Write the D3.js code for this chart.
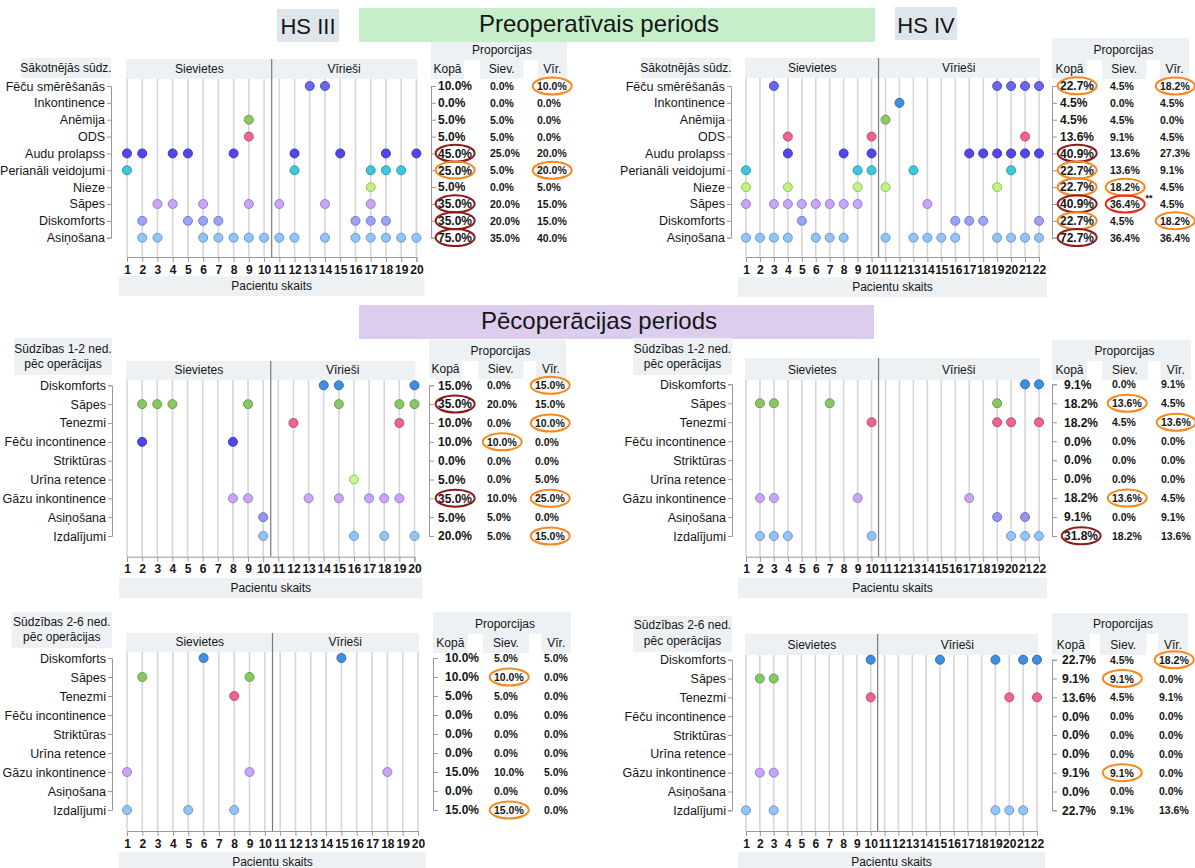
<!DOCTYPE html>
<html>
<head>
<meta charset="utf-8">
<script src="https://cdn.jsdelivr.net/npm/d3@7"></script>
<style>
  body { margin: 0; background: #fff; }
  svg text { font-family: "Liberation Sans", Arial, sans-serif; fill: #151515; }
</style>
</head>
<body>
<svg id="chart" width="1195" height="868"></svg>
<script>
// ---- dati ----
const preCats = ["Fēču smērēšanās", "Inkontinence", "Anēmija", "ODS", "Audu prolapss",
  "Perianāli veidojumi", "Nieze", "Sāpes", "Diskomforts", "Asiņošana"];
const postCats = ["Diskomforts", "Sāpes", "Tenezmi", "Fēču incontinence", "Striktūras",
  "Urīna retence", "Gāzu inkontinence", "Asiņošana", "Izdalījumi"];

const preColors = ["#6a66ee", "#3e8ee2", "#8cc864", "#f0648c", "#5046ee",
  "#3cc8dc", "#c2f282", "#c8a4fa", "#9ca2fa", "#90c4fa"];
const postColors = ["#3e8ee2", "#88c864", "#f0648c", "#5046ee", "#999999",
  "#c8f88a", "#c8a4fa", "#9494f4", "#90c4fa"];

const hs3Ticks = [1, 2, 3, 4, 5, 6, 7, 8, 9, 10, 11, 12, 13, 14, 15, 16, 17, 18, 19, 20];
const hs4Ticks = [1, 2, 3, 4, 5, 6, 7, 8, 9, 10, 11, 12, 13, 14, 15, 16, 17, 18, 19, 20, 21, 22];
const hs3Women = 10;
const hs4Women = 10;

// pacientu numuri katrai sūdzībai
const hs3PreDots = [[13, 14], [], [9], [9], [1, 2, 4, 5, 8, 12, 15, 18, 20], [1, 12, 17, 18, 19], [17],
  [3, 4, 6, 9, 11, 14, 17], [2, 5, 6, 7, 16, 17, 18], [2, 3, 6, 7, 8, 9, 10, 11, 12, 14, 16, 17, 18, 19, 20]];
const hs4PreDots = [[3, 19, 20, 21, 22], [12], [11], [4, 10, 21], [4, 8, 10, 17, 18, 19, 20, 21, 22],
  [1, 9, 10, 13, 20], [1, 4, 9, 11, 19], [1, 3, 4, 5, 6, 7, 8, 9, 14], [5, 16, 17, 18, 22],
  [1, 2, 3, 4, 6, 7, 8, 11, 13, 14, 15, 16, 19, 20, 21, 22]];
const hs3Post12Dots = [[14, 15, 20], [2, 3, 4, 9, 15, 19, 20], [12, 19], [2, 8], [], [16],
  [8, 9, 13, 15, 17, 18, 19], [10], [10, 16, 18, 20]];
const hs4Post12Dots = [[21, 22], [2, 3, 7, 19], [10, 19, 20, 22], [], [], [], [2, 3, 9, 17], [19, 21],
  [2, 3, 4, 10, 20, 21, 22]];
const hs3Post26Dots = [[6, 15], [2, 9], [8], [], [], [], [1, 9, 18], [], [1, 5, 8]];
const hs4Post26Dots = [[10, 15, 19, 21, 22], [2, 3], [10, 20, 22], [], [], [], [2, 3], [], [1, 3, 19, 20, 21]];

// proporcijas
const hs3PreKopa = ["10.0%", "0.0%", "5.0%", "5.0%", "45.0%", "25.0%", "5.0%", "35.0%", "35.0%", "75.0%"];
const hs3PreSiev = ["0.0%", "0.0%", "5.0%", "5.0%", "25.0%", "5.0%", "0.0%", "20.0%", "20.0%", "35.0%"];
const hs3PreVir = ["10.0%", "0.0%", "0.0%", "0.0%", "20.0%", "20.0%", "5.0%", "15.0%", "15.0%", "40.0%"];
const hs4PreKopa = ["22.7%", "4.5%", "4.5%", "13.6%", "40.9%", "22.7%", "22.7%", "40.9%", "22.7%", "72.7%"];
const hs4PreSiev = ["4.5%", "0.0%", "4.5%", "9.1%", "13.6%", "13.6%", "18.2%", "36.4%", "4.5%", "36.4%"];
const hs4PreVir = ["18.2%", "4.5%", "0.0%", "4.5%", "27.3%", "9.1%", "4.5%", "4.5%", "18.2%", "36.4%"];
const hs3Post12Kopa = ["15.0%", "35.0%", "10.0%", "10.0%", "0.0%", "5.0%", "35.0%", "5.0%", "20.0%"];
const hs3Post12Siev = ["0.0%", "20.0%", "0.0%", "10.0%", "0.0%", "0.0%", "10.0%", "5.0%", "5.0%"];
const hs3Post12Vir = ["15.0%", "15.0%", "10.0%", "0.0%", "0.0%", "5.0%", "25.0%", "0.0%", "15.0%"];
const hs4Post12Kopa = ["9.1%", "18.2%", "18.2%", "0.0%", "0.0%", "0.0%", "18.2%", "9.1%", "31.8%"];
const hs4Post12Siev = ["0.0%", "13.6%", "4.5%", "0.0%", "0.0%", "0.0%", "13.6%", "0.0%", "18.2%"];
const hs4Post12Vir = ["9.1%", "4.5%", "13.6%", "0.0%", "0.0%", "0.0%", "4.5%", "9.1%", "13.6%"];
const hs3Post26Kopa = ["10.0%", "10.0%", "5.0%", "0.0%", "0.0%", "0.0%", "15.0%", "0.0%", "15.0%"];
const hs3Post26Siev = ["5.0%", "10.0%", "5.0%", "0.0%", "0.0%", "0.0%", "10.0%", "0.0%", "15.0%"];
const hs3Post26Vir = ["5.0%", "0.0%", "0.0%", "0.0%", "0.0%", "0.0%", "5.0%", "0.0%", "0.0%"];
const hs4Post26Kopa = ["22.7%", "9.1%", "13.6%", "0.0%", "0.0%", "0.0%", "9.1%", "0.0%", "22.7%"];
const hs4Post26Siev = ["4.5%", "9.1%", "4.5%", "0.0%", "0.0%", "0.0%", "9.1%", "0.0%", "9.1%"];
const hs4Post26Vir = ["18.2%", "0.0%", "9.1%", "0.0%", "0.0%", "0.0%", "0.0%", "0.0%", "13.6%"];

// apļi ap vērtībām: o = oranžs, d = tumši sarkans, r = sarkans
const hs3PreMarks = { kopa: ["", "", "", "", "d", "o", "", "d", "d", "d"], siev: [], vir: ["o", "", "", "", "", "o"] };
const hs4PreMarks = { kopa: ["o", "", "", "", "d", "o", "o", "d", "o", "d"], siev: ["", "", "", "", "", "", "o", "r"], vir: ["o", "", "", "", "", "", "", "", "o"] };
const hs3Post12Marks = { kopa: ["", "d", "", "", "", "", "d"], siev: ["", "", "", "o"], vir: ["o", "", "o", "", "", "", "o", "", "o"] };
const hs4Post12Marks = { kopa: ["", "", "", "", "", "", "", "", "d"], siev: ["", "o", "", "", "", "", "o"], vir: ["", "", "o"] };
const hs3Post26Marks = { kopa: [], siev: ["", "o", "", "", "", "", "", "", "o"], vir: [] };
const hs4Post26Marks = { kopa: [], siev: ["", "o", "", "", "", "", "o"], vir: ["o"] };

const markColor = { o: "#f5891f", d: "#8e1b1b", r: "#ea2a1c" };

// ---- zīmēšana ----
const svg = d3.select("#chart");
const headFill = "#edf1f4";

function box(x0, y0, x1, y1, fill) {
  svg.append("rect")
    .attr("x", x0).attr("y", y0)
    .attr("width", x1 - x0).attr("height", y1 - y0)
    .attr("fill", fill);
}

function txt(x, y, s, size, anchor, weight) {
  return svg.append("text")
    .attr("x", x).attr("y", y)
    .attr("text-anchor", anchor || "middle")
    .attr("font-size", size + "px")
    .attr("font-weight", weight || "normal")
    .text(s);
}

// virsraksti
box(277, 9, 339, 42, "#dfe6eb");
txt(308, 34, "HS III", 22);
box(895, 7, 957, 40, "#dfe6eb");
txt(926, 33, "HS IV", 22);
box(359, 8, 875, 42, "#c6efc9");
txt(599, 32, "Preoperatīvais periods", 24);
box(359, 305, 874, 339, "#dccdee");
txt(599, 329, "Pēcoperācijas periods", 24);

function drawPanel(p) {
  const last = p.ticks[p.ticks.length - 1];
  const x = d3.scaleLinear().domain([p.ticks[0], last]).range([p.x0, p.x1]);
  const y = d3.scalePoint().domain(p.cats).range([p.y0, p.y1]);
  const split = (x(p.women) + x(p.women + 1)) / 2;

  // galvenes
  box(p.lab[0], p.lab[1], p.lab[2], p.lab[3], headFill);
  const lx = (p.lab[0] + p.lab[2]) / 2;
  p.labText.forEach((s, i) => txt(lx, p.labBase[i], s, 12));
  box(x(p.ticks[0]) - 1, p.headTop, split, p.headBot, headFill);
  box(split, p.headTop, x(last) + 1, p.headBot, headFill);
  txt((x(p.ticks[0]) + split) / 2, p.headBot - 6, "Sievietes", 12);
  txt((split + x(last)) / 2, p.headBot - 6, "Vīrieši", 12);

  // pacientu skaits
  box(x(p.ticks[0]) - 8, p.pacTop, x(last) + 8, p.pacTop + 20, headFill);
  txt((x(p.ticks[0]) + x(last)) / 2, p.pacTop + 14, "Pacientu skaits", 12);

  // režģa līnijas
  svg.append("g").selectAll("line")
    .data(p.ticks)
    .join("line")
    .attr("x1", d => x(d)).attr("x2", d => x(d))
    .attr("y1", p.headBot).attr("y2", p.axisY)
    .attr("stroke", "#d6d6d6")
    .attr("stroke-width", 1.6);

  svg.append("line")
    .attr("x1", split).attr("x2", split)
    .attr("y1", p.headTop).attr("y2", p.axisY)
    .attr("stroke", "#7a7a7a")
    .attr("stroke-width", 1.2);

  // x ass
  const xa = svg.append("g")
    .attr("transform", `translate(0,${p.axisY})`)
    .call(d3.axisBottom(x).tickValues(p.ticks).tickFormat(d3.format("d")).tickSize(5).tickPadding(3));
  xa.selectAll("path,line").attr("stroke", "#999");
  xa.selectAll("text").attr("font-size", "12px").attr("font-weight", "bold")
    .attr("font-family", "'Liberation Sans', Arial, sans-serif").attr("fill", "#111");

  // y ass ar sūdzībām
  const ya = svg.append("g")
    .attr("transform", `translate(${p.axisX},0)`)
    .call(d3.axisLeft(y).tickSize(4).tickPadding(2));
  ya.selectAll("path,line").attr("stroke", "#999");
  ya.selectAll("text").attr("font-size", "12.5px")
    .attr("font-family", "'Liberation Sans', Arial, sans-serif").attr("fill", "#222");

  // punkti
  const pts = [];
  p.dots.forEach((list, i) => list.forEach(n => pts.push({ cat: p.cats[i], n, c: p.colors[i] })));
  svg.append("g").selectAll("circle")
    .data(pts)
    .join("circle")
    .attr("cx", d => x(d.n))
    .attr("cy", d => y(d.cat))
    .attr("r", 4.5)
    .attr("fill", d => d.c)
    .attr("stroke", d => d3.color(d.c).darker(0.7))
    .attr("stroke-width", 1);

  // proporciju tabula
  const [b0, b1] = p.prop;
  box(b0, p.propTop, b1, p.propBot, headFill);
  svg.append("rect").attr("x", p.gaps[0]).attr("y", p.gapTop).attr("width", p.gaps[1] - p.gaps[0])
    .attr("height", p.propBot - p.gapTop + 1).attr("fill", "#fff");
  svg.append("rect").attr("x", p.gaps[2]).attr("y", p.gapTop).attr("width", p.gaps[3] - p.gaps[2])
    .attr("height", p.propBot - p.gapTop + 1).attr("fill", "#fff");
  txt((b0 + b1) / 2 + 3, p.gapTop - 6, "Proporcijas", 12);
  txt((b0 + p.gaps[0]) / 2, p.propBot - 6, "Kopā", 12);
  txt((p.gaps[1] + p.gaps[2]) / 2, p.propBot - 6, "Siev.", 12);
  txt((p.gaps[3] + b1) / 2, p.propBot - 6, "Vīr.", 12);

  const ka = svg.append("g")
    .attr("transform", `translate(${b0},0)`)
    .call(d3.axisRight(y).tickSize(5).tickPadding(p.kopaX - b0 - 5)
      .tickFormat((d, i) => p.kopa[i]));
  ka.selectAll("path,line").attr("stroke", "#999");
  ka.selectAll("text").attr("font-size", "12px").attr("font-weight", "bold")
    .attr("font-family", "'Liberation Sans', Arial, sans-serif").attr("fill", "#111");

  const cols = [
    { key: "siev", vals: p.siev, x0: p.sievX },
    { key: "vir", vals: p.vir, x0: p.virX }
  ];
  const colText = {};
  cols.forEach(col => {
    colText[col.key] = svg.append("g").selectAll("text")
      .data(col.vals)
      .join("text")
      .attr("x", col.x0)
      .attr("y", (d, i) => y(p.cats[i]) + 4)
      .attr("font-size", "10.5px")
      .attr("font-weight", "bold")
      .text(d => d);
  });

  // apļi
  const marks = [];
  ka.selectAll(".tick text").each(function (d, i) {
    const m = p.marks.kopa[i];
    if (m) marks.push({ bb: this.getBBox(), off: y(d), m, kopa: true });
  });
  ["siev", "vir"].forEach(key => {
    colText[key].each(function (d, i) {
      const m = p.marks[key][i];
      const bb = this.getBBox();
      if (m) marks.push({ bb, off: 0, m });
      if (p.note && p.note.key === key && p.note.row === i) {
        txt(bb.x + bb.width + 5, bb.y + 3, p.note.text, 9, "start", "bold");
      }
    });
  });
  svg.append("g").selectAll("ellipse")
    .data(marks)
    .join("ellipse")
    .attr("cx", d => (d.kopa ? b0 : 0) + d.bb.x + d.bb.width / 2)
    .attr("cy", d => d.off + d.bb.y + d.bb.height / 2)
    .attr("rx", 19.5)
    .attr("ry", 8.5)
    .attr("fill", "none")
    .attr("stroke", d => markColor[d.m])
    .attr("stroke-width", 2);
}

const panels = [
  { cats: preCats, colors: preColors, ticks: hs3Ticks, women: hs3Women, dots: hs3PreDots,
    kopa: hs3PreKopa, siev: hs3PreSiev, vir: hs3PreVir, marks: hs3PreMarks,
    x0: 127, x1: 416.4, y0: 86, y1: 237.7, axisX: 111, axisY: 257,
    headTop: 59, headBot: 79, lab: [21, 58, 111, 78], labText: ["Sākotnējās sūdz."], labBase: [72],
    pacTop: 276, prop: [431, 567], propTop: 42, propBot: 79, gapTop: 60, gaps: [464, 480, 523.5, 537.7],
    kopaX: 438, sievX: 490, virX: 537 },
  { cats: preCats, colors: preColors, ticks: hs4Ticks, women: hs4Women, dots: hs4PreDots,
    kopa: hs4PreKopa, siev: hs4PreSiev, vir: hs4PreVir, marks: hs4PreMarks,
    note: { key: "siev", row: 7, text: "**" },
    x0: 746, x1: 1039, y0: 86, y1: 237.7, axisX: 731, axisY: 257,
    headTop: 58, headBot: 78, lab: [641, 58, 731, 78], labText: ["Sākotnējās sūdz."], labBase: [72],
    pacTop: 277, prop: [1052, 1189], propTop: 38, propBot: 79, gapTop: 60, gaps: [1087, 1102, 1146.5, 1160],
    kopaX: 1060, sievX: 1110, virX: 1160 },
  { cats: postCats, colors: postColors, ticks: hs3Ticks, women: hs3Women, dots: hs3Post12Dots,
    kopa: hs3Post12Kopa, siev: hs3Post12Siev, vir: hs3Post12Vir, marks: hs3Post12Marks,
    x0: 127, x1: 414.5, y0: 385.3, y1: 536, axisX: 112, axisY: 556.7,
    headTop: 361, headBot: 380, lab: [14, 338, 112, 375], labText: ["Sūdzības 1-2 ned.", "pēc operācijas"], labBase: [353, 368],
    pacTop: 578, prop: [429, 566], propTop: 340, propBot: 379, gapTop: 361, gaps: [462, 478, 523.5, 535.8],
    kopaX: 438, sievX: 487, virX: 535 },
  { cats: postCats, colors: postColors, ticks: hs4Ticks, women: hs4Women, dots: hs4Post12Dots,
    kopa: hs4Post12Kopa, siev: hs4Post12Siev, vir: hs4Post12Vir, marks: hs4Post12Marks,
    x0: 746, x1: 1039, y0: 384.3, y1: 536, axisX: 732, axisY: 556.7,
    headTop: 358, headBot: 380, lab: [633, 338, 732, 375], labText: ["Sūdzības 1-2 ned.", "pēc operācijas"], labBase: [353, 368],
    pacTop: 578, prop: [1052, 1191], propTop: 340, propBot: 380, gapTop: 361, gaps: [1087, 1102, 1148, 1160.5],
    kopaX: 1064, sievX: 1112, virX: 1161 },
  { cats: postCats, colors: postColors, ticks: hs3Ticks, women: hs3Women, dots: hs3Post26Dots,
    kopa: hs3Post26Kopa, siev: hs3Post26Siev, vir: hs3Post26Vir, marks: hs3Post26Marks,
    x0: 127, x1: 418, y0: 658, y1: 810, axisX: 112, axisY: 831,
    headTop: 633, headBot: 652, lab: [11.5, 612, 112, 648], labText: ["Sūdzības 2-6 ned.", "pēc operācijas"], labBase: [626, 641],
    pacTop: 852, prop: [433, 571], propTop: 612, propBot: 653, gapTop: 634, gaps: [467.7, 483, 529, 541.5],
    kopaX: 445, sievX: 494, virX: 544 },
  { cats: postCats, colors: postColors, ticks: hs4Ticks, women: hs4Women, dots: hs4Post26Dots,
    kopa: hs4Post26Kopa, siev: hs4Post26Siev, vir: hs4Post26Vir, marks: hs4Post26Marks,
    x0: 746, x1: 1037, y0: 659.7, y1: 810.3, axisX: 732, axisY: 831,
    headTop: 634, headBot: 655, lab: [633, 616, 732, 652], labText: ["Sūdzības 2-6 ned.", "pēc operācijas"], labBase: [629, 645],
    pacTop: 852, prop: [1052, 1188], propTop: 613, propBot: 655, gapTop: 634, gaps: [1089.6, 1100, 1146.5, 1158],
    kopaX: 1062, sievX: 1110, virX: 1159 }
];

panels.forEach(drawPanel);
</script>
</body>
</html>
